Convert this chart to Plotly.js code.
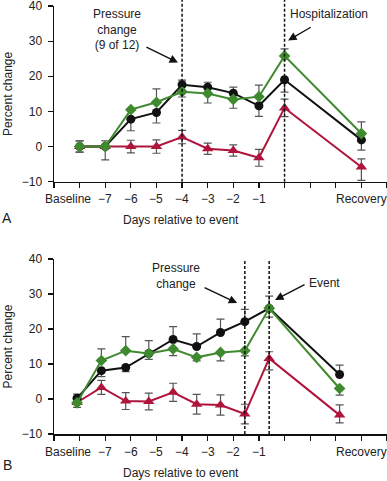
<!DOCTYPE html>
<html><head><meta charset="utf-8">
<script src="https://cdn.plot.ly/plotly-3.0.1.min.js"></script>
<style>body{margin:0;background:#fff}#chart{width:387px;height:481px}</style>
</head><body><div id="chart"></div>
<script>
// ---- Tick labels ----
const tickLabels = ["Baseline","\u22127","\u22126","\u22125","\u22124","\u22123","\u22122","\u22121","Recovery"];
const tickPos = [0,1,2,3,4,5,6,7,11];

// ---- Panel A ----
const xA = [0,1,2,3,4,5,6,7,8,11];
const blackA = [0,0,7.8,9.7,17.6,16.9,15.2,11.6,19.0,1.9];
const blackAup = [1.6,0,0,0,1.3,1.4,1.7,0,0,0];
const blackAdn = [1.6,3.8,3.3,3.0,0,0,0,3.0,3.5,2.9];
const greenA = [0,0,10.5,12.6,15.6,15.1,13.4,14.2,25.8,3.7];
const greenAup = [1.6,1.6,0,3.8,0,0,0,3.3,2.0,3.3];
const greenAdn = [1.6,0,0,0,1.5,2.7,2.5,0,0,0];
const redA = [0,0,0,0,2.7,-0.6,-1.1,-3.2,11.0,-5.8];
const redAup = [0,0,1.8,1.9,1.9,1.6,1.6,2.4,2.5,2.3];
const redAdn = [0,0,1.8,1.9,1.9,1.6,1.6,2.4,2.5,3.8];
const vlinesA = [4,8];

// ---- Panel B ----
const xB = [-0.1,0.85,1.8,2.7,3.65,4.57,5.5,6.45,7.4,10.15];
const blackB = [0.2,8.1,9.0,13.0,17.0,15.0,19.0,22.1,25.9,7.0];
const blackBup = [1.2,0,0,0,3.7,3.6,3.8,3.5,3.5,2.7];
const blackBdn = [1.2,1.7,1.2,1.7,0,0,0,0,2.5,0];
const greenB = [-1.1,11.0,13.8,13.0,14.3,11.9,13.3,13.8,25.9,3.0];
const greenBup = [0,3.3,4.0,3.7,0,0,0,0,0,0];
const greenBdn = [1.3,0,0,0,1.9,1.0,2.4,1.5,0,1.9];
const redB = [-1.0,3.3,-0.6,-0.7,1.9,-1.5,-1.7,-4.3,11.6,-4.6];
const redBup = [0,2.0,2.4,2.4,2.6,2.8,2.9,2.8,1.9,2.9];
const redBdn = [0,2.0,2.4,2.4,2.6,2.8,2.9,2.8,3.3,2.2];
const vlinesB = [6.45,7.4];

const GREEN = '#3f8a2f', RED = '#b0143c', BLACK = '#111111', ERR = '#555555';

function tr(x, y, up, dn, color, symbol, size, xa, ya){
  return {x:x, y:y, xaxis:xa, yaxis:ya, type:'scatter', mode:'lines+markers',
    line:{color:color, width:2},
    marker:{color:color, symbol:symbol, size:size},
    error_y:{type:'data', symmetric:false, array:up, arrayminus:dn, color:ERR, thickness:1.2, width:4},
    showlegend:false, hoverinfo:'skip'};
}

const data = [
  tr(xA, redA, redAup, redAdn, RED, 'triangle-up', 10, 'x', 'y'),
  tr(xA, blackA, blackAup, blackAdn, BLACK, 'circle', 9, 'x', 'y'),
  tr(xA, greenA, greenAup, greenAdn, GREEN, 'diamond', 9, 'x', 'y'),
  tr(xB, redB, redBup, redBdn, RED, 'triangle-up', 10, 'x2', 'y2'),
  tr(xB, blackB, blackBup, blackBdn, BLACK, 'circle', 9, 'x2', 'y2'),
  tr(xB, greenB, greenBup, greenBdn, GREEN, 'diamond', 9, 'x2', 'y2')
];

const FONT = {family:'"Liberation Sans", Arial, sans-serif', size:12, color:'#222'};

function xax(anchor){
  return {range:[-1,12], anchor:anchor, showgrid:false, zeroline:false, showline:true, linecolor:'#111', linewidth:1.5,
    ticks:'outside', ticklen:5, tickwidth:1.2, tickcolor:'#111', tick0:0, dtick:1, showticklabels:false, fixedrange:true};
}
function yax(anchor, dom){
  return {range:[-10,40], domain:dom, anchor:anchor, showgrid:false, zeroline:false, showline:true, linecolor:'#111', linewidth:1.5,
    ticks:'outside', ticklen:5, tickwidth:1.2, tickcolor:'#111', tick0:0, dtick:10, ticklabelstandoff:3,
    ticklabeloverflow:'allow', tickfont:FONT, fixedrange:true};
}

const annotations = [];
function addTickLabels(xref, yref){
  tickLabels.forEach((t,i)=>{
    const first = i===0;
    annotations.push({text:t, x: first ? 0.53 : tickPos[i], xref:xref, y:0, yref:yref+' domain',
      xanchor: first ? 'right' : 'center', yanchor:'middle', yshift:-17.5, showarrow:false, font:FONT});
  });
}
addTickLabels('x','y');
addTickLabels('x2','y2');

function common(yref, daysY, letter, letterY){
  annotations.push({text:'Percent change', textangle:-90, xref:'paper', x:-0.138, xanchor:'center', yref:yref+' domain', y:0.5, yanchor:'middle', showarrow:false, font:FONT});
  annotations.push({text:'Days relative to event', xref:'paper', x:0.381, xanchor:'center', yref:'paper', y:daysY, yanchor:'middle', showarrow:false, font:FONT});
  annotations.push({text:letter, xref:'paper', x:-0.141, xanchor:'center', yref:'paper', y:letterY, yanchor:'middle', showarrow:false, font:{family:FONT.family, size:14, color:'#222'}});
}
common('y', 0.5, 'A', 0.505);
common('y2', -0.091, 'B', -0.072);

function textAnn(t, x, y, xr, yr){
  annotations.push({text:t, x:x, y:y, xref:xr, yref:yr, showarrow:false, font:FONT, xanchor:'center', yanchor:'middle'});
}
function arrowAnn(hx, hy, tx, ty, xr, yr){
  annotations.push({text:'', x:hx, y:hy, ax:tx, ay:ty, xref:xr, yref:yr, axref:xr, ayref:yr, showarrow:true,
    arrowhead:2, arrowsize:1.2, arrowwidth:1.4, arrowcolor:'#111'});
}
textAnn('Pressure<br>change<br>(9 of 12)', 1.46, 33.4, 'x', 'y');
arrowAnn(3.84, 23.9, 2.55, 28.5, 'x', 'y');
textAnn('Hospitalization', 9.75, 37.6, 'x', 'y');
arrowAnn(8.14, 30.2, 9.08, 34.2, 'x', 'y');
textAnn('Pressure<br>change', 3.77, 35.1, 'x2', 'y2');
arrowAnn(6.15, 27.4, 4.82, 32.0, 'x2', 'y2');
textAnn('Event', 9.55, 33.1, 'x2', 'y2');
arrowAnn(7.63, 28.3, 8.84, 32.9, 'x2', 'y2');

const shapes = [];
vlinesA.forEach(v=>shapes.push({type:'line', xref:'x', yref:'y domain', x0:v, x1:v, y0:0, y1:1.035, line:{color:'#111', width:1.5, dash:'3px,2px'}}));
vlinesB.forEach(v=>shapes.push({type:'line', xref:'x2', yref:'y2 domain', x0:v, x1:v, y0:0, y1:1.0, line:{color:'#111', width:1.5, dash:'3px,2px'}}));

const layout = {
  width:387, height:481, margin:{l:54, r:0, t:6, b:47},
  paper_bgcolor:'#fff', plot_bgcolor:'#fff', font:FONT, showlegend:false,
  xaxis:xax('y'), yaxis:yax('x',[0.5895,1]),
  xaxis2:xax('y2'), yaxis2:yax('x2',[0,0.4089]),
  annotations:annotations, shapes:shapes
};
Plotly.newPlot('chart', data, layout, {displayModeBar:false, staticPlot:true});
</script></body></html>
